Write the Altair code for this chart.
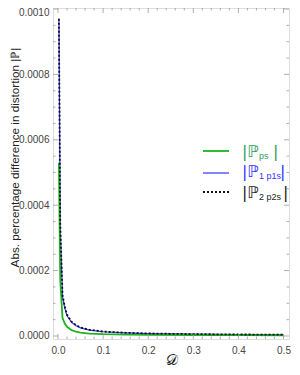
import altair as alt
import pandas as pd

D = [0.002, 0.005, 0.01, 0.015, 0.02, 0.03, 0.04, 0.05, 0.07, 0.1, 0.15, 0.2, 0.3, 0.4, 0.5]
P_ps = [0.00053, 0.00017, 0.000055, 0.000038, 0.000028, 0.000018, 0.000013, 0.000010, 0.0000075, 0.0000055, 0.0000042, 0.0000035, 0.000003, 0.0000025, 0.000002]
P_1p1s = [0.00097, 0.00033, 0.00012, 0.000085, 0.000062, 0.000042, 0.000031, 0.000025, 0.000018, 0.000013, 0.0000095, 0.0000075, 0.0000055, 0.0000045, 0.0000038]
P_2p2s = [0.00097, 0.00034, 0.000125, 0.00009, 0.000065, 0.000044, 0.000033, 0.000026, 0.000019, 0.0000135, 0.0000098, 0.0000078, 0.0000057, 0.0000047, 0.000004]

x_major = [0.0, 0.1, 0.2, 0.3, 0.4, 0.5]
x_minor = [round(0.02 * i, 2) for i in range(1, 25) if i % 5 != 0]
y_major = [0.0, 0.0002, 0.0004, 0.0006, 0.0008, 0.0010]
y_minor = [round(0.00005 * i, 6) for i in range(1, 20) if i % 4 != 0]

W, H = 236, 331
xdom = [-0.0111, 0.5122]
ydom = [-0.0000092, 0.00100306]

df = pd.DataFrame({
    "D": D * 3,
    "P": P_ps + P_1p1s + P_2p2s,
    "s": ["ps"] * len(D) + ["1p1s"] * len(D) + ["2p2s"] * len(D),
})

xs = alt.Scale(domain=xdom, nice=False, zero=False)
ys = alt.Scale(domain=ydom, nice=False, zero=False)

axis_common = dict(ticks=False, domain=False, grid=False, labelFont="Liberation Sans",
                   labelFontSize=10, labelColor="#444444", titleFont="Liberation Sans",
                   titleColor="#222222", titleFontWeight="normal")

base = alt.Chart(df)

def line(series, color, width, dash=None):
    kw = dict(color=color, strokeWidth=width, clip=True)
    if dash:
        kw["strokeDash"] = dash
    return base.transform_filter(alt.datum.s == series).mark_line(**kw).encode(
        x=alt.X("D:Q", scale=xs, axis=alt.Axis(values=x_major, format=".1f", title="𝒟",
                                              titleFontSize=15, titleY=20, titleBaseline="middle",
                                              labelPadding=6, **axis_common)),
        y=alt.Y("P:Q", scale=ys, axis=alt.Axis(values=y_major, format=".4f",
                                              title="Abs. percentage  difference in distortion |ℙ|",
                                              titleFontSize=11.7, titleX=-39, titleY=149,
                                              titleAngle=270, titleBaseline="middle",
                                              titleAlign="center", labelPadding=4,
                                              labelOffset={"condition": {"test": "datum.value >= 0.0009", "value": 3}, "value": 0},
                                              **axis_common)),
    )

green = line("ps", "#1db31d", 1.8)
blue = line("1p1s", "#3333ff", 1.2)
black = line("2p2s", "#111111", 1.8, [2, 2])

tick_color = "#999999"
xmaj = pd.DataFrame({"v": x_major})
xmin = pd.DataFrame({"v": x_minor})
ymaj = pd.DataFrame({"v": y_major})
ymin = pd.DataFrame({"v": y_minor})

def xt(d, L):
    b = alt.Chart(d).mark_rule(color=tick_color, strokeWidth=0.8)
    return (b.encode(x=alt.X("v:Q", scale=xs), y=alt.value(H), y2=alt.value(H - L)) +
            b.encode(x=alt.X("v:Q", scale=xs), y=alt.value(0), y2=alt.value(L)))

def yt(d, L):
    b = alt.Chart(d).mark_rule(color=tick_color, strokeWidth=0.8)
    return (b.encode(y=alt.Y("v:Q", scale=ys), x=alt.value(0), x2=alt.value(L)) +
            b.encode(y=alt.Y("v:Q", scale=ys), x=alt.value(W), x2=alt.value(W - L)))

ticks = xt(xmaj, 5) + xt(xmin, 2.5) + yt(ymaj, 5) + yt(ymin, 2.5)

# manual legend
leg = pd.DataFrame({"k": ["ps", "1p1s", "2p2s"]})
lb = alt.Chart(leg)
def leg_line(k, y, color, width, dash=None):
    kw = dict(color=color, strokeWidth=width)
    if dash:
        kw["strokeDash"] = dash
    return lb.transform_filter(alt.datum.k == k).mark_rule(**kw).encode(
        x=alt.value(150), x2=alt.value(176), y=alt.value(y))

def leg_text(k, y, color, sub, close_x):
    f = lb.transform_filter(alt.datum.k == k)
    return (f.mark_text(text="|ℙ", align="left", baseline="middle", fontSize=16,
                        font="DejaVu Sans", color=color).encode(x=alt.value(189), y=alt.value(y)) +
            f.mark_text(text=sub, align="left", baseline="middle", fontSize=9,
                        font="Liberation Sans", color=color).encode(x=alt.value(206), y=alt.value(y + 4)) +
            f.mark_text(text="|", align="left", baseline="middle", fontSize=16,
                        font="DejaVu Sans", color=color).encode(x=alt.value(close_x), y=alt.value(y)))

legend = (leg_line("ps", 143, "#1db31d", 1.8) + leg_line("1p1s", 165, "#3333ff", 1.2) +
          leg_line("2p2s", 184, "#111111", 1.8, [2, 2]) +
          leg_text("ps", 144, "#2e9e5a", "ps", 220) +
          leg_text("1p1s", 164, "#3333ff", "1 p1s", 227) +
          leg_text("2p2s", 185, "#222222", "2 p2s", 230))

chart = alt.layer(blue, green, black, ticks, legend).properties(
    width=W, height=H,
    autosize=alt.AutoSizeParams(type="none"),
    padding={"left": 45, "top": 0, "right": 3, "bottom": 27},
).configure_view(stroke="#999999", strokeWidth=1).configure(background="white")

chart.save("out.html", embed_options={"renderer": "svg", "actions": False})
